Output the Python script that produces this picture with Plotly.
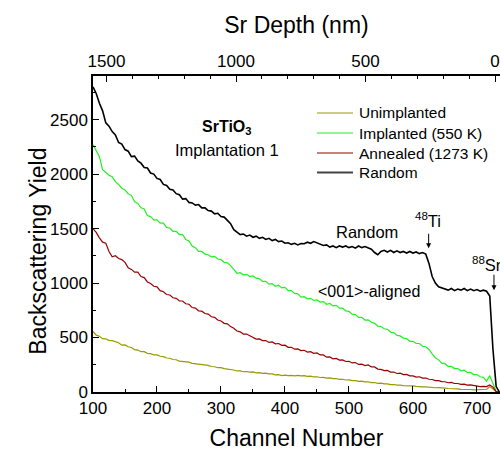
import plotly.graph_objects as go

# Channel grid (every 5 channels)
channels = list(range(100, 736, 5))

random_yield = [
    2800, 2740, 2650, 2580, 2470, 2440, 2390, 2360, 2290, 2275,
    2225, 2210, 2160, 2165, 2120, 2100, 2060, 2055, 2010, 2000,
    1960, 1950, 1905, 1895, 1860, 1855, 1820, 1810, 1770, 1775,
    1740, 1735, 1715, 1720, 1690, 1690, 1665, 1660, 1635, 1640,
    1610, 1605, 1575, 1545, 1490, 1465, 1445, 1450, 1430, 1440,
    1420, 1430, 1410, 1420, 1400, 1410, 1390, 1400, 1380, 1385,
    1365, 1370, 1355, 1365, 1350, 1362, 1360, 1375, 1365, 1380,
    1370, 1360, 1345, 1350, 1330, 1340, 1325, 1340, 1330, 1340,
    1325, 1335, 1320, 1340, 1325, 1335, 1320, 1310, 1280, 1260,
    1290, 1300, 1285, 1300, 1280, 1295, 1280, 1290, 1275, 1290,
    1275, 1285, 1270, 1280, 1265, 1180, 1060, 1000, 965, 955,
    945, 935, 950, 930, 945, 935, 950, 930, 945, 930,
    940, 925, 935, 925, 880, 390, 50, 0,
]

implanted_yield = [
    2270, 2215, 2160, 2040, 2015, 1990, 1975, 1930, 1905, 1870,
    1855, 1820, 1805, 1745, 1730, 1690, 1680, 1620, 1610, 1580,
    1580, 1550, 1550, 1510, 1505, 1475, 1475, 1445, 1445, 1400,
    1385, 1340, 1325, 1290, 1290, 1265, 1260, 1240, 1245, 1220,
    1215, 1190, 1185, 1160, 1125, 1090, 1095, 1075, 1080, 1060,
    1065, 1045, 1040, 1015, 1015, 990, 995, 970, 980, 955,
    960, 930, 930, 905, 900, 870, 875, 855, 860, 840,
    845, 825, 830, 805, 812, 790, 795, 770, 770, 745,
    740, 715, 710, 685, 685, 660, 662, 640, 630, 605,
    600, 580, 575, 550, 545, 520, 515, 495, 490, 465,
    465, 445, 445, 420, 415, 390, 350, 315, 295, 265,
    260, 235, 235, 215, 215, 195, 200, 180, 180, 160,
    160, 140, 135, 100, 150, 70, 5, 0,
]

annealed_yield = [
    1500, 1465, 1415, 1375, 1365, 1290, 1240, 1250, 1225, 1215,
    1190, 1140, 1125, 1100, 1100, 1060, 1050, 1010, 995, 970,
    965, 930, 920, 895, 890, 865, 860, 835, 835, 810,
    805, 775, 770, 745, 742, 720, 715, 690, 685, 660,
    652, 630, 625, 600, 585, 560, 552, 532, 532, 515,
    505, 485, 487, 472, 472, 455, 460, 442, 445, 428,
    430, 410, 410, 393, 395, 380, 383, 367, 370, 355,
    358, 340, 340, 320, 322, 305, 308, 293, 295, 280,
    282, 267, 270, 253, 255, 243, 248, 230, 230, 210,
    208, 196, 198, 183, 183, 170, 173, 160, 162, 148,
    148, 137, 140, 128, 128, 117, 115, 105, 105, 95,
    94, 85, 88, 78, 78, 70, 72, 63, 65, 58,
    58, 50, 52, 50, 65, 45, 3, 0,
]

unimplanted_yield = [
    555, 522, 512, 490, 488, 474, 472, 460, 452, 430,
    432, 415, 408, 388, 385, 370, 370, 355, 352, 340,
    340, 328, 325, 312, 310, 298, 296, 283, 280, 273,
    274, 263, 260, 251, 252, 244, 244, 234, 232, 223,
    224, 214, 212, 204, 202, 193, 193, 186, 188, 182,
    184, 176, 178, 171, 173, 166, 166, 158, 159, 151,
    155, 150, 153, 148, 152, 148, 150, 143, 145, 138,
    140, 133, 134, 128, 129, 123, 124, 116, 117, 110,
    112, 104, 105, 98, 99, 93, 94, 86, 87, 80,
    82, 75, 75, 68, 69, 63, 64, 58, 59, 54,
    56, 51, 52, 47, 47, 42, 43, 39, 40, 35,
    36, 32, 32, 28, 29, 25, 26, 22, 23, 20,
    21, 18, 19, 25, 48, 30, 3, 0,
]

series_names = ["Unimplanted", "Implanted (550 K)", "Annealed (1273 K)", "Random"]
series_colors = ["#999900", "#22f022", "#990000", "#000000"]
legend_colors = ["#999900", "#22f022", "#990000", "#444444"]

x_range = [100, 736]
y_range = [0, 2900]
depth_range = [1552, -19]

FONT = "Liberation Sans, Arial, sans-serif"

fig = go.Figure()
for name, ys, col, w in zip(series_names,
                            [unimplanted_yield, implanted_yield, annealed_yield, random_yield],
                            series_colors, [1.2, 1.2, 1.2, 1.6]):
    fig.add_trace(go.Scatter(x=channels, y=ys, mode="lines", name=name,
                             line=dict(color=col, width=w), showlegend=False))

# invisible trace so the top (depth) axis is drawn
fig.add_trace(go.Scatter(x=depth_range, y=[0, 0], xaxis="x2", yaxis="y", mode="lines",
                         line=dict(width=0, color="rgba(0,0,0,0)"), opacity=0,
                         showlegend=False, hoverinfo="skip"))

axis_common = dict(showline=True, linecolor="black", linewidth=1.5, ticks="inside",
                   ticklen=6, tickwidth=1.2, tickcolor="black", showgrid=False,
                   zeroline=False, tickfont=dict(size=17, color="black", family=FONT))

fig.update_layout(
    width=500, height=451,
    margin=dict(l=93, r=0, t=76, b=59),
    paper_bgcolor="white", plot_bgcolor="white",
    font=dict(family=FONT, color="black"),
    xaxis=dict(range=x_range, dtick=100, tick0=100,
               minor=dict(dtick=50, ticklen=3, ticks="inside", tickcolor="black"),
               title=dict(text="Channel Number", font=dict(size=23), standoff=14),
               **axis_common),
    xaxis2=dict(range=depth_range, overlaying="x", side="top", anchor="y",
                dtick=500, tick0=0,
                minor=dict(dtick=100, ticklen=3, ticks="inside", tickcolor="black"),
                title=dict(text="Sr Depth (nm)", font=dict(size=23), standoff=12),
                **axis_common),
    yaxis=dict(range=y_range, dtick=500, tick0=0,
               minor=dict(dtick=250, ticklen=3, ticks="inside", tickcolor="black"),
               **axis_common),
    showlegend=False,
)

# manual legend (pixel positions converted to paper coords)
PL, PW, PT, PH = 93.0, 407.0, 76.0, 316.0
def px(xp):
    return (xp - PL) / PW
def py(yp):
    return (PT + PH - yp) / PH

legend_rows = [113, 133, 153, 172.5]
for name, col, yrow in zip(series_names, legend_colors, legend_rows):
    fig.add_shape(type="line", xref="paper", yref="paper",
                  x0=px(317), x1=px(353), y0=py(yrow), y1=py(yrow),
                  line=dict(color=col, width=2 if col == "#444444" else 1.2))
    fig.add_annotation(text=name, xref="paper", yref="paper", x=px(357), y=py(yrow),
                       xanchor="left", yanchor="middle", showarrow=False,
                       font=dict(size=15.5, family=FONT, color="black"))

annots = [
    dict(text="Backscattering Yield", xref="paper", yref="paper",
         x=-0.173, y=0.446, textangle=-90, showarrow=False, font=dict(size=23)),
    dict(text="<b>SrTiO<sub>3</sub></b>", x=310, y=2427, showarrow=False, font=dict(size=16)),
    dict(text="Implantation 1", x=310, y=2225, showarrow=False, font=dict(size=16.5)),
    dict(text="Random", x=528, y=1470, showarrow=False, font=dict(size=16.5)),
    dict(text="<001>-aligned", x=532, y=925, showarrow=False, font=dict(size=16)),
    dict(text="<sup>48</sup>Ti", x=623, y=1575, showarrow=False, font=dict(size=16.5)),
    dict(text="<sup>88</sup>Sr", x=688.6, y=1177, xanchor="left", showarrow=False,
         font=dict(size=16.5)),
    dict(text="", x=624.5, y=1319, ax=0, ay=-16, showarrow=True, arrowhead=2,
         arrowsize=1, arrowwidth=1, arrowcolor="black"),
    dict(text="", x=726.6, y=934, ax=0, ay=-17, showarrow=True, arrowhead=2,
         arrowsize=1, arrowwidth=1, arrowcolor="black"),
]
for a in annots:
    a["font"] = dict(a.get("font", {}), family=FONT, color="black")
    fig.add_annotation(**a)

fig.write_html("out.html")
